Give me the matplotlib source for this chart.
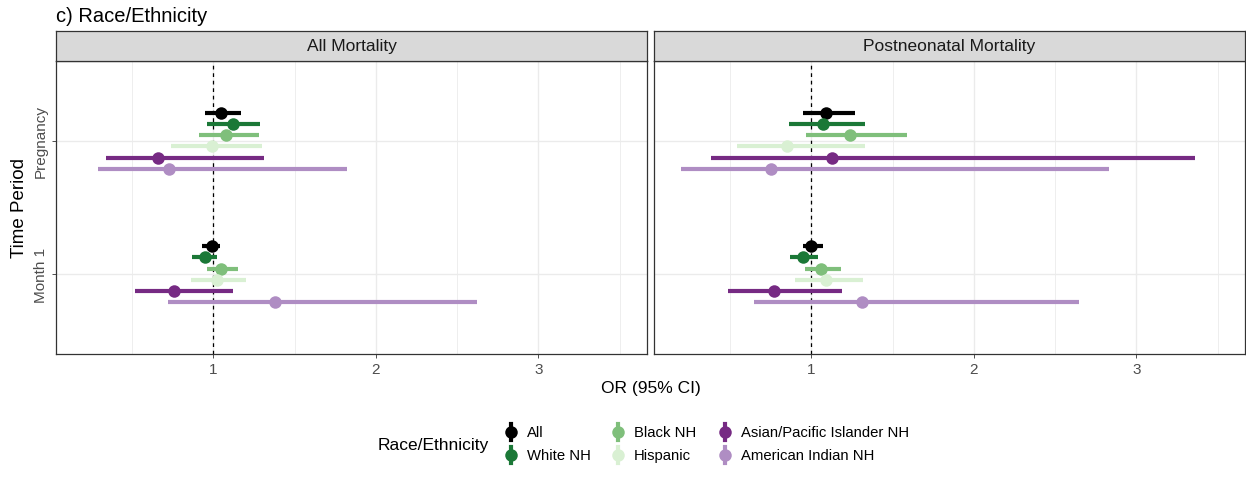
import matplotlib
matplotlib.use("Agg")
import numpy as np
from matplotlib import pyplot as plt

plt.rcParams["font.family"] = ["Liberation Sans", "DejaVu Sans"]

groups = ["All", "White NH", "Black NH", "Hispanic",
          "Asian/Pacific Islander NH", "American Indian NH"]
colors = ["#000000", "#1b7837", "#7fbf7b", "#d9f0d3", "#762a83", "#af8dc3"]
periods = ["Month 1", "Pregnancy"]
panels = ["All Mortality", "Postneonatal Mortality"]

# OR, lower, upper per group; rows = [Month 1, Pregnancy]
all_or = {
    "All":                       [[0.99, 0.93, 1.04], [1.05, 0.95, 1.17]],
    "White NH":                  [[0.95, 0.87, 1.02], [1.12, 0.96, 1.29]],
    "Black NH":                  [[1.05, 0.96, 1.15], [1.08, 0.91, 1.28]],
    "Hispanic":                  [[1.02, 0.86, 1.20], [0.99, 0.74, 1.30]],
    "Asian/Pacific Islander NH": [[0.76, 0.52, 1.12], [0.66, 0.34, 1.31]],
    "American Indian NH":        [[1.38, 0.72, 2.62], [0.73, 0.29, 1.82]],
}
post_or = {
    "All":                       [[1.00, 0.95, 1.07], [1.09, 0.95, 1.27]],
    "White NH":                  [[0.95, 0.87, 1.04], [1.07, 0.86, 1.33]],
    "Black NH":                  [[1.06, 0.96, 1.18], [1.24, 0.97, 1.59]],
    "Hispanic":                  [[1.09, 0.90, 1.32], [0.85, 0.54, 1.33]],
    "Asian/Pacific Islander NH": [[0.77, 0.49, 1.19], [1.13, 0.38, 3.36]],
    "American Indian NH":        [[1.31, 0.65, 2.65], [0.75, 0.20, 2.83]],
}
data = [all_or, post_or]

W, H = 1246, 481
fig = plt.figure(figsize=(W / 100, H / 100), dpi=100)

def px(x0, y0, x1, y1):
    return [x0 / W, 1 - y1 / H, (x1 - x0) / W, (y1 - y0) / H]

panel_px = [(56, 647), (654, 1245)]
dodge = 0.5
n = len(groups)
offsets = (np.arange(n) - (n - 1) / 2) * dodge / n

for k, (x0, x1) in enumerate(panel_px):
    ax = fig.add_axes(px(x0, 62, x1, 355))
    ax.set_xlim(0.032, 3.669)
    ax.set_ylim(0.4, 2.6)
    for v in [0.5, 1.5, 2.5, 3.5]:
        ax.axvline(v, color="#ebebeb", lw=0.6, zorder=0)
    for v in [1, 2, 3]:
        ax.axvline(v, color="#ebebeb", lw=1.0, zorder=0)
    for v in [1, 2]:
        ax.axhline(v, color="#ebebeb", lw=1.0, zorder=0)
    ax.axvline(1, color="black", lw=0.9, ls=(0, (3, 3)), zorder=1)
    for i, g in enumerate(groups):
        vals = np.array(data[k][g])
        ys = np.arange(1, 3) - offsets[i]
        ax.hlines(ys, vals[:, 1], vals[:, 2], color=colors[i], lw=3.0, zorder=2)
        ax.plot(vals[:, 0], ys, "o", color=colors[i], ms=9, mew=0, zorder=3)
    ax.set_xticks([1, 2, 3])
    ax.set_xticklabels(["1", "2", "3"], fontsize=11, color="#4d4d4d")
    ax.tick_params(axis="both", length=3, width=0.6, color="#333333", pad=3)
    ax.set_yticks([1, 2])
    if k == 0:
        ax.set_yticklabels(periods, rotation=90, va="center",
                           fontsize=11, color="#4d4d4d")
        ax.set_ylabel("Time Period", fontsize=13.5, labelpad=4)
    else:
        ax.set_yticklabels([])
        ax.tick_params(axis="y", length=0)
    for s in ax.spines.values():
        s.set_color("#333333")
        s.set_linewidth(0.9)

    sax = fig.add_axes(px(x0, 32, x1, 62))
    sax.set_facecolor("#d9d9d9")
    sax.set_xticks([])
    sax.set_yticks([])
    for s in sax.spines.values():
        s.set_color("#333333")
        s.set_linewidth(0.9)
    sax.text(0.5, 0.5, panels[k], ha="center", va="center",
             fontsize=12.5, color="#1a1a1a", transform=sax.transAxes)

fig.text(56 / W, 1 - 16 / H, "c) Race/Ethnicity", ha="left", va="center",
         fontsize=14.5)
fig.text(651 / W, 1 - 388 / H, "OR (95% CI)", ha="center", va="center",
         fontsize=12.5)

# legend
lax = fig.add_axes([0, 0, 1, 1])
lax.set_xlim(0, W)
lax.set_ylim(H, 0)
lax.axis("off")
lax.text(378, 446, "Race/Ethnicity", ha="left", va="center", fontsize=12.5)
col_x = [511, 618, 725]
row_y = [433, 456]
for i, g in enumerate(groups):
    cx = col_x[i // 2]
    cy = row_y[i % 2]
    lax.plot([cx, cx], [cy - 8, cy + 8], color=colors[i], lw=3.0)
    lax.plot(cx, cy, "o", color=colors[i], ms=9, mew=0)
    lax.text(cx + 16, cy, g, ha="left", va="center", fontsize=10.7)

fig.savefig("out.png", dpi=100)
